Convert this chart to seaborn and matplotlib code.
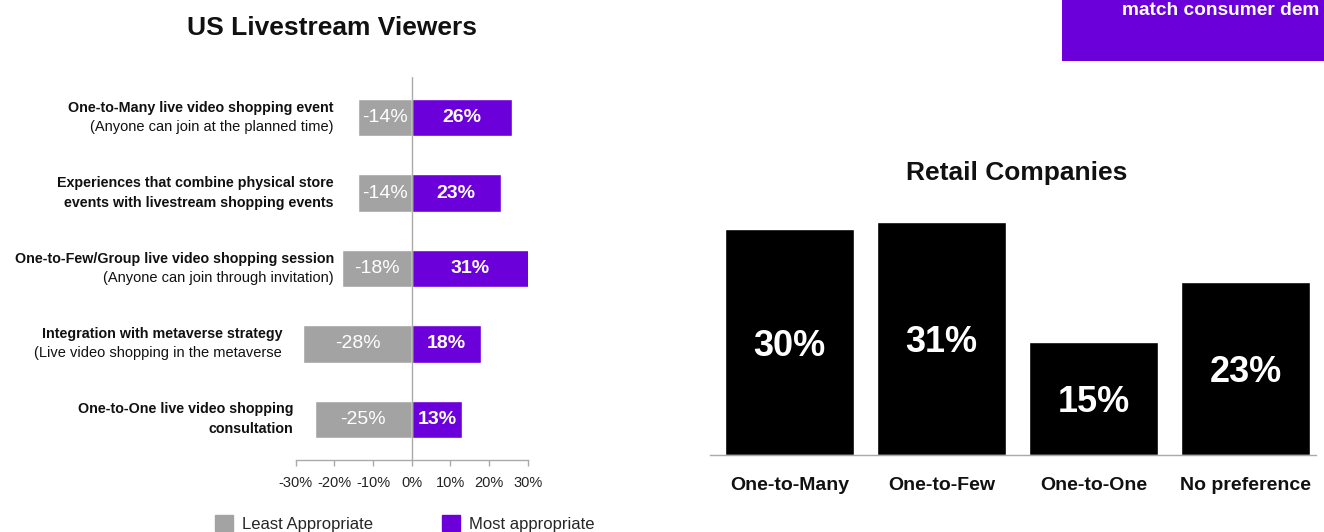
import matplotlib
matplotlib.use("Agg")
import matplotlib.pyplot as plt
from matplotlib.patches import Patch, Rectangle
import seaborn as sns
import pandas as pd

# ---- data -------------------------------------------------------------
option_titles = [
    "One-to-Many live video shopping event",
    "Experiences that combine physical store",
    "One-to-Few/Group live video shopping session",
    "Integration with metaverse strategy",
    "One-to-One live video shopping",
]
option_subtitles = [
    "(Anyone can join at the planned time)",
    "events with livestream shopping events",
    "(Anyone can join through invitation)",
    "(Live video shopping in the metaverse",
    "consultation",
]
subtitle_bold = [False, True, False, False, True]
least_appropriate = [-14, -14, -18, -28, -25]
most_appropriate = [26, 23, 31, 18, 13]
viewer_ticks = [-30, -20, -10, 0, 10, 20, 30]

retail_categories = ["One-to-Many", "One-to-Few", "One-to-One", "No preference"]
retail_values = [30, 31, 15, 23]

# ---- style --------------------------------------------------------------
GREY = "#A3A3A3"
PURPLE = "#6B00DA"
AXIS_GREY = "#AAAAAA"
INK = "#111111"

sns.set_theme(style="white")
plt.rcParams["font.family"] = ["Liberation Sans", "DejaVu Sans"]

W, H = 1324, 532
fig = plt.figure(figsize=(W / 100, H / 100), dpi=100)


def fx(px):
    return px / W


def fy(py):
    return 1 - py / H


# right edge (px) of each two-line row label
label_right_px = [334, 334, 334, 282, 293]

# ---- left: diverging bars ---------------------------------------------
ax1 = fig.add_axes([fx(295.7), fy(460), fx(527.7) - fx(295.7), (460 - 77) / H])

df_left = pd.DataFrame({
    "option": option_titles * 2,
    "rating": ["Least Appropriate"] * len(option_titles) + ["Most appropriate"] * len(option_titles),
    "share": least_appropriate + most_appropriate,
})
sns.barplot(data=df_left, y="option", x="share", hue="rating",
            palette=[GREY, PURPLE], dodge=False, width=0.5, saturation=1,
            orient="h", legend=False, ax=ax1)

ax1.set_xlim(-30, 30)
ax1.set_ylim(len(option_titles) - 0.463, -0.537)
ax1.axvline(0, color=AXIS_GREY, lw=1, zorder=3)
ax1.set_xticks(viewer_ticks)
ax1.set_xticklabels([f"{v}%" for v in viewer_ticks])
ax1.set_yticks(range(len(option_titles)))
ax1.set_yticklabels([])
ax1.set_xlabel("")
ax1.set_ylabel("")
for side in ["top", "right", "left"]:
    ax1.spines[side].set_visible(False)
ax1.spines["bottom"].set_color(AXIS_GREY)
ax1.spines["bottom"].set_linewidth(1)
ax1.spines["bottom"].set_bounds(-30, 30)
ax1.tick_params(axis="x", length=4.5, width=1, color=AXIS_GREY, direction="out",
                labelsize=10.5, labelcolor="#222222", pad=7, bottom=True)
ax1.tick_params(axis="y", length=0)

ax1.bar_label(ax1.containers[0], labels=[f"{v}%" for v in least_appropriate],
              label_type="center", color="white", fontsize=14)
ax1.bar_label(ax1.containers[1], labels=[f"{v}%" for v in most_appropriate],
              label_type="center", color="white", fontsize=14, fontweight="bold")

# two-line category labels, placed in figure x / data y
for i, (t1, t2, b2) in enumerate(zip(option_titles, option_subtitles, subtitle_bold)):
    y_px = ax1.transData.transform((0, i))[1]
    x_fig = fx(label_right_px[i])
    y_fig = y_px / H
    fig.text(x_fig, y_fig + 10 / H, t1, ha="right", va="center",
             fontsize=10.3, fontweight="bold", color=INK)
    fig.text(x_fig, y_fig - 9.5 / H, t2, ha="right", va="center",
             fontsize=10.3 if b2 else 10.5, fontweight="bold" if b2 else "normal",
             color=INK)

fig.text(fx(332), fy(28), "US Livestream Viewers", ha="center", va="center",
         fontsize=19, fontweight="bold", color=INK)

fig.legend(handles=[Patch(color=GREY), Patch(color=PURPLE)],
           labels=["Least Appropriate", "Most appropriate"],
           loc="upper left", bbox_to_anchor=(fx(215), fy(515)), ncol=2,
           frameon=False, fontsize=12, handlelength=1.1, handleheight=1.1,
           handletextpad=0.55, columnspacing=4.1, borderpad=0, borderaxespad=0)

# ---- right: retail companies -------------------------------------------
ax2 = fig.add_axes([fx(710), fy(455), fx(1316) - fx(710), (455 - 191.5) / H])
df_right = pd.DataFrame({"approach": retail_categories, "share": retail_values})
sns.barplot(data=df_right, x="approach", y="share", color="black",
            width=0.85, saturation=1, ax=ax2)
ax2.set_xlim(-0.523, 3.464)
ax2.set_ylim(0, 35)
ax2.set_yticks([])
ax2.set_xlabel("")
ax2.set_ylabel("")
for side in ["top", "right", "left"]:
    ax2.spines[side].set_visible(False)
ax2.spines["bottom"].set_color(AXIS_GREY)
ax2.spines["bottom"].set_linewidth(1)
ax2.tick_params(axis="x", length=0, pad=16, labelsize=14, labelcolor=INK)
for lbl in ax2.get_xticklabels():
    lbl.set_fontweight("bold")

# value labels in the middle of each bar
for patch, v in zip(ax2.containers[0], retail_values):
    ax2.annotate(f"{v}%", (patch.get_x() + patch.get_width() / 2, patch.get_height() / 2),
                 xytext=(0, -3), textcoords="offset points", ha="center", va="center",
                 color="white", fontsize=26, fontweight="bold")

fig.text(fx(1017), fy(173), "Retail Companies", ha="center", va="center",
         fontsize=19, fontweight="bold", color=INK)

# ---- callout box --------------------------------------------------------
fig.add_artist(Rectangle((fx(1062), fy(61)), 1 - fx(1062), 61 / H,
                         transform=fig.transFigure, color=PURPLE, lw=0))
fig.text(fx(1122), fy(15), "match consumer dem", ha="left", va="baseline",
         color="white", fontsize=13.8, fontweight="bold")

fig.savefig("out.png", dpi=100)
